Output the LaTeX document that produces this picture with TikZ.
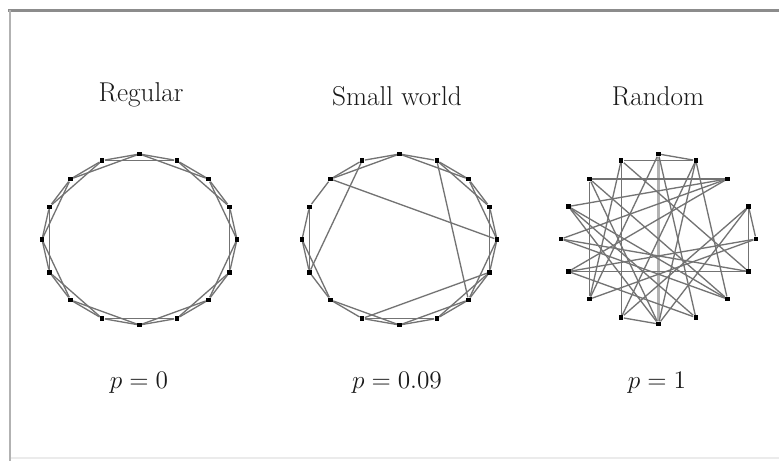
\documentclass[tikz,border=0pt]{standalone}
\usepackage{amsmath,amssymb}
\usepackage{tikz}

\begin{document}
\begin{tikzpicture}[x=0.02cm,y=-0.02cm,
    vertex/.style={rectangle,fill=black,inner sep=0pt,minimum size=2.6pt},
    edge/.style={draw=black!55,line width=0.75pt},
    title/.style={font=\fontsize{15.5}{18}\selectfont,text=black!90}]
    \useasboundingbox (0,0) rectangle (779,461);
    \fill[white] (0,0) rectangle (779,461);
    \draw[line width=1.7pt,black!45] (8,10) -- (779,10);
    \draw[line width=1.7pt,black!30] (10,10) -- (10,461);
    \draw[line width=1.2pt,black!8] (11,458) -- (779,458);
    \foreach \k in {0,...,15}{
        \node[vertex] (R\k) at ({139.5+97.5*cos(22.5*\k)},{239.5-85.5*sin(22.5*\k)}) {};
        \node[vertex] (S\k) at ({399.5+97.5*cos(22.5*\k)},{239.5-85.5*sin(22.5*\k)}) {};
        \node[vertex] (Q\k) at ({658.5+97.5*cos(22.5*\k)},{239-85*sin(22.5*\k)}) {};
    }
    \foreach \k in {0,...,15}{
        \pgfmathtruncatemacro\a{mod(\k+1,16)}
        \pgfmathtruncatemacro\b{mod(\k+2,16)}
        \draw[edge] (R\k) -- (R\a);
        \draw[edge] (R\k) -- (R\b);
        \draw[edge] (S\k) -- (S\a);
    }
    \foreach \k in {0,1,2,4,7,8,10,11,12,13,14,15}{
        \pgfmathtruncatemacro\b{mod(\k+2,16)}
        \draw[edge] (S\k) -- (S\b);
    }
    \foreach \i/\j in {6/0,5/9,3/14,11/15}
        \draw[edge] (S\i) -- (S\j);
    \draw[edge,draw=black!30,line width=1.8pt] (Q4) -- (Q12);
    \foreach \i/\j in {6/2,6/10,1/15,1/0,5/3,4/3,5/10,6/14,6/12,7/2,7/13,8/2,8/14,9/2,9/15,
        10/4,11/1,12/1,12/7,13/4,13/9,14/7,15/8,11/5,3/14,3/11,0/10,12/3,15/5,11/12,0/9}
        \draw[edge] (Q\i) -- (Q\j);
    \node[title] (regular) at (141,95) {Regular};
    \node[title] (small) at (397,96) {Small world};
    \node[title] (random) at (658,96) {Random};
    \node[title] (p0) at (139,383) {$p=0$};
    \node[title] (p009) at (397,383) {$p=0.09$};
    \node[title] (p1) at (657,383) {$p=1$};
\end{tikzpicture}
\end{document}
